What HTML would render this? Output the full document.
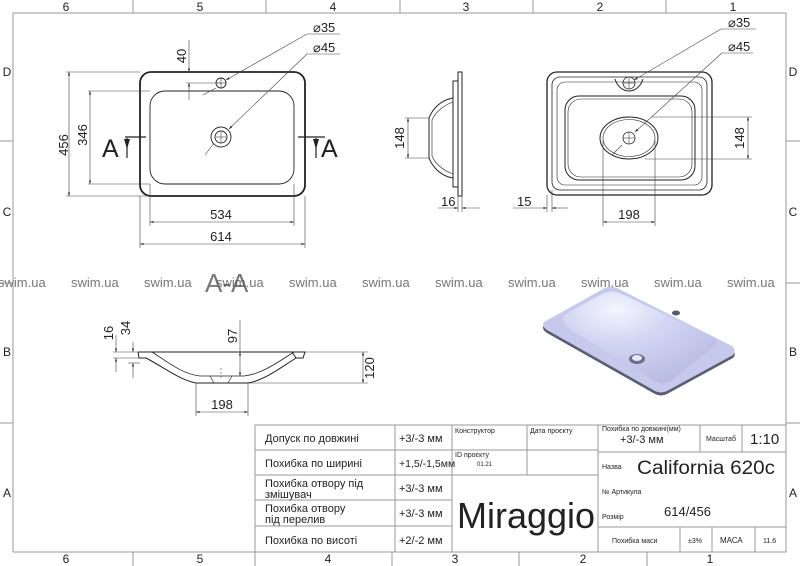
<!DOCTYPE html>
<html><head><meta charset="utf-8"><style>
html,body{margin:0;padding:0;background:#fff;width:800px;height:566px;overflow:hidden}
svg{display:block}
text{font-family:"Liberation Sans",sans-serif}
</style></head><body>
<svg width="800" height="566" viewBox="0 0 800 566" xmlns="http://www.w3.org/2000/svg">
<defs>
<marker id="ar" viewBox="0 0 10 10" refX="10" refY="5" markerWidth="6" markerHeight="6" orient="auto-start-reverse"><path d="M0,2 L10,5 L0,8 z" fill="#222"/></marker>
<radialGradient id="bowl" cx="0.35" cy="0.2" r="0.9"><stop offset="0" stop-color="#f4f5ff"/><stop offset="0.4" stop-color="#d2d5f2"/><stop offset="1" stop-color="#b4b8e0"/></radialGradient>
</defs>
<g stroke="#999" stroke-width="1" fill="none">
<line x1="13" y1="13" x2="786" y2="13"/>
<line x1="13" y1="13" x2="13" y2="552"/>
<line x1="786" y1="13" x2="786" y2="552"/>
<line x1="13" y1="552" x2="786" y2="552"/>
<line x1="133" y1="0" x2="133" y2="13"/><line x1="266" y1="0" x2="266" y2="13"/><line x1="400" y1="0" x2="400" y2="13"/><line x1="533" y1="0" x2="533" y2="13"/><line x1="666" y1="0" x2="666" y2="13"/>
<line x1="133" y1="552" x2="133" y2="566"/><line x1="255" y1="552" x2="255" y2="566"/><line x1="392" y1="552" x2="392" y2="566"/><line x1="519" y1="552" x2="519" y2="566"/><line x1="647" y1="552" x2="647" y2="566"/>
<line x1="0" y1="141" x2="13" y2="141"/><line x1="0" y1="283" x2="13" y2="283"/><line x1="0" y1="423" x2="13" y2="423"/>
<line x1="786" y1="141" x2="800" y2="141"/><line x1="786" y1="283" x2="800" y2="283"/><line x1="786" y1="423" x2="800" y2="423"/>
</g>
<g font-size="12" fill="#222" text-anchor="middle">
<text x="66" y="11">6</text><text x="200" y="11">5</text><text x="333" y="11">4</text><text x="466" y="11">3</text><text x="600" y="11">2</text><text x="733" y="11">1</text>
<text x="66" y="563">6</text><text x="200" y="563">5</text><text x="328" y="563">4</text><text x="455" y="563">3</text><text x="583" y="563">2</text><text x="710" y="563">1</text>
<text x="7" y="76">D</text><text x="7" y="216">C</text><text x="7" y="356">B</text><text x="7" y="497">A</text>
<text x="793" y="76">D</text><text x="793" y="216">C</text><text x="793" y="356">B</text><text x="793" y="497">A</text>
</g>

<!-- Plan view left -->
<g stroke="#222" fill="none">
<rect x="140" y="72" width="165" height="124" rx="11" stroke-width="1.8"/>
<rect x="150" y="91" width="144" height="93" rx="15" stroke-width="0.9"/>
<circle cx="221" cy="137" r="10" stroke-width="0.9"/><circle cx="221" cy="137" r="6" stroke-width="0.9"/>
<circle cx="221" cy="83" r="5" stroke-width="0.9"/>
</g>
<g stroke="#444" stroke-width="0.6" fill="none">
<line x1="216" y1="137" x2="226" y2="137"/><line x1="221" y1="132" x2="221" y2="142"/>
<line x1="216" y1="83" x2="226" y2="83"/><line x1="221" y1="78" x2="221" y2="88"/>
<line x1="66" y1="72" x2="140" y2="72"/><line x1="66" y1="196" x2="150" y2="196"/>
<line x1="88" y1="91" x2="150" y2="91"/><line x1="88" y1="184" x2="150" y2="184"/>
<line x1="69" y1="72" x2="69" y2="196" marker-start="url(#ar)" marker-end="url(#ar)"/>
<line x1="90" y1="91" x2="90" y2="184" marker-start="url(#ar)" marker-end="url(#ar)"/>
<line x1="150" y1="184" x2="150" y2="226"/><line x1="294" y1="184" x2="294" y2="226"/>
<line x1="140" y1="196" x2="140" y2="248"/><line x1="305" y1="196" x2="305" y2="248"/>
<line x1="150" y1="222" x2="294" y2="222" marker-start="url(#ar)" marker-end="url(#ar)"/>
<line x1="140" y1="244" x2="305" y2="244" marker-start="url(#ar)" marker-end="url(#ar)"/>
<line x1="189" y1="40" x2="189" y2="72" marker-end="url(#ar)"/>
<line x1="189" y1="100" x2="189" y2="83" marker-end="url(#ar)"/>
<line x1="186" y1="83" x2="221" y2="83"/>
<line x1="340" y1="34" x2="307" y2="34"/><line x1="307" y1="34" x2="226" y2="80" marker-end="url(#ar)"/><line x1="216" y1="88" x2="203" y2="95"/>
<line x1="340" y1="54" x2="307" y2="54"/><line x1="307" y1="54" x2="229" y2="129" marker-end="url(#ar)"/><line x1="214" y1="143" x2="205" y2="155"/>
</g>
<g stroke="#222" stroke-width="1.2">
<line x1="125" y1="137" x2="146" y2="137"/><line x1="298" y1="137" x2="325" y2="137"/>
<line x1="127" y1="138" x2="127" y2="158"/><line x1="316" y1="138" x2="316" y2="158"/>
</g>
<path d="M124,139 L127,149 L130,139z M313,139 L316,149 L319,139z" fill="#222"/>
<g font-size="13" fill="#222">
<text x="102" y="157" font-size="25">A</text><text x="321" y="157" font-size="25">A</text>
<text x="0" y="0" transform="translate(68,145) rotate(-90)" text-anchor="middle">456</text>
<text x="0" y="0" transform="translate(87,135) rotate(-90)" text-anchor="middle">346</text>
<text x="0" y="0" transform="translate(186,56) rotate(-90)" text-anchor="middle">40</text>
<text x="221" y="219" text-anchor="middle">534</text>
<text x="221" y="241" text-anchor="middle">614</text>
<text x="313" y="32">⌀35</text><text x="313" y="52">⌀45</text>
</g>

<!-- Side view -->
<g stroke="#222" fill="none" stroke-width="1">
<rect x="458" y="72" width="4" height="124"/>
<rect x="453" y="81" width="5" height="106"/>
<path d="M453,98 C440,100 432,110 429,118 L429,158 C432,166 440,176 453,178"/>
<path d="M453,102 C442,106 435,113 432,120 L432,156 C435,163 442,170 453,174" stroke-width="0.6"/>
</g>
<g stroke="#444" stroke-width="0.6" fill="none">
<line x1="405" y1="118" x2="430" y2="118"/><line x1="405" y1="158" x2="430" y2="158"/>
<line x1="408" y1="118" x2="408" y2="158" marker-start="url(#ar)" marker-end="url(#ar)"/>
<line x1="458" y1="196" x2="458" y2="212"/><line x1="462" y1="196" x2="462" y2="212"/>
<line x1="438" y1="208" x2="458" y2="208" marker-end="url(#ar)"/><line x1="480" y1="208" x2="462" y2="208" marker-end="url(#ar)"/>
</g>
<g font-size="13" fill="#222">
<text transform="translate(404,138) rotate(-90)" text-anchor="middle">148</text>
<text x="441" y="206">16</text>
</g>

<!-- Right plan view -->
<g stroke="#222" fill="none">
<rect x="547" y="72" width="165" height="123" rx="10" stroke-width="1.3"/>
<rect x="552" y="77" width="155" height="113" rx="8" stroke-width="0.8"/>
<rect x="557" y="82" width="145" height="103" rx="8" stroke-width="0.6"/>
<rect x="565" y="96" width="130" height="84" rx="14" stroke-width="1"/>
<rect x="568" y="99" width="124" height="78" rx="13" stroke-width="0.6"/>
<ellipse cx="629" cy="138" rx="29" ry="21" stroke-width="1"/>
<ellipse cx="629" cy="138" rx="26" ry="18.5" stroke-width="0.6"/>
<circle cx="629" cy="138" r="6" stroke-width="0.8"/>
<circle cx="629" cy="83" r="6" stroke-width="0.8"/>
<path d="M615,79 C620,95 638,95 643,79" stroke-width="1"/>
</g>
<g stroke="#444" stroke-width="0.6" fill="none">
<line x1="623" y1="138" x2="635" y2="138"/><line x1="629" y1="132" x2="629" y2="144"/>
<line x1="623" y1="83" x2="635" y2="83"/><line x1="629" y1="77" x2="629" y2="89"/>
<line x1="652" y1="117" x2="752" y2="117"/><line x1="645" y1="159" x2="752" y2="159"/>
<line x1="748" y1="117" x2="748" y2="159" marker-start="url(#ar)" marker-end="url(#ar)"/>
<line x1="603" y1="140" x2="603" y2="226"/><line x1="655" y1="140" x2="655" y2="226"/>
<line x1="603" y1="222" x2="655" y2="222" marker-start="url(#ar)" marker-end="url(#ar)"/>
<line x1="547" y1="195" x2="547" y2="212"/><line x1="552" y1="190" x2="552" y2="212"/>
<line x1="513" y1="208" x2="547" y2="208" marker-end="url(#ar)"/><line x1="568" y1="208" x2="552" y2="208" marker-end="url(#ar)"/>
<line x1="756" y1="29" x2="721" y2="29"/><line x1="721" y1="29" x2="634" y2="80" marker-end="url(#ar)"/>
<line x1="753" y1="53" x2="722" y2="53"/><line x1="722" y1="53" x2="635" y2="132" marker-end="url(#ar)"/><line x1="622" y1="145" x2="612" y2="155"/>
</g>
<g font-size="13" fill="#222">
<text x="728" y="27">⌀35</text><text x="728" y="51">⌀45</text>
<text x="629" y="219" text-anchor="middle">198</text>
<text x="517" y="206">15</text>
<text transform="translate(744,138) rotate(-90)" text-anchor="middle">148</text>
</g>

<!-- 3D -->
<path d="M544,325 L603,291 Q610,287 617,290 L732,350 Q737,354 733,358 L667,394 Q661,397 655,394 L547,333 Q541,329 544,325z" fill="#5a5e72"/>
<path d="M544,322 L603,289 Q610,285 617,288 L732,346 Q737,350 733,355 L667,391 Q661,394 655,391 L547,330 Q541,326 544,322z" fill="#c6c9ec"/>
<path d="M566,314 L602,294 Q612,289 622,294 L712,337 Q720,342 712,348 L672,380 Q664,386 655,381 L571,330 Q558,321 566,314z" fill="url(#bowl)"/>
<ellipse cx="637" cy="359" rx="8" ry="5" fill="#6a6f8a"/><ellipse cx="637" cy="358" rx="5" ry="3" fill="#e6e8ff"/>
<ellipse cx="676" cy="313" rx="4" ry="2.5" fill="#555a70"/>

<!-- watermark -->
<g font-size="13" fill="#777">
<text x="-2" y="287">swim.ua</text><text x="71" y="287">swim.ua</text><text x="144" y="287">swim.ua</text><text x="216" y="287">swim.ua</text><text x="289" y="287">swim.ua</text><text x="362" y="287">swim.ua</text><text x="435" y="287">swim.ua</text><text x="508" y="287">swim.ua</text><text x="581" y="287">swim.ua</text><text x="654" y="287">swim.ua</text><text x="727" y="287">swim.ua</text>
</g>
<text x="205" y="292" font-size="26" fill="#555" fill-opacity="0.8">A-A</text>

<!-- Section A-A -->
<g stroke="#222" fill="none" stroke-width="1">
<path d="M138,352 L305,352 L303,358 L296,358 L292,352"/>
<path d="M138,352 L139,358 L146,358 C165,368 180,380 196,383 L248,383 C265,380 280,368 296,358"/>
<path d="M152,352 C168,362 182,374 200,376 L244,376 C262,374 278,362 294,352" stroke-width="0.8"/>
<path d="M210,376 L214,383 M232,376 L228,383" stroke-width="0.6"/>
</g>
<g stroke="#444" stroke-width="0.6" fill="none">
<line x1="113" y1="352" x2="138" y2="352"/><line x1="113" y1="358" x2="139" y2="358"/>
<line x1="116" y1="335" x2="116" y2="352" marker-end="url(#ar)"/><line x1="116" y1="372" x2="116" y2="358" marker-end="url(#ar)"/>
<line x1="133" y1="342" x2="133" y2="352" marker-end="url(#ar)"/><line x1="133" y1="378" x2="133" y2="363" marker-end="url(#ar)"/>
<line x1="128" y1="363" x2="140" y2="363"/>
<line x1="240" y1="320" x2="240" y2="352"/><line x1="240" y1="352" x2="240" y2="376" marker-start="url(#ar)" marker-end="url(#ar)"/>
<line x1="305" y1="352" x2="368" y2="352"/><line x1="248" y1="383" x2="368" y2="383"/>
<line x1="363" y1="352" x2="363" y2="383" marker-start="url(#ar)" marker-end="url(#ar)"/>
<line x1="196" y1="383" x2="196" y2="416"/><line x1="248" y1="383" x2="248" y2="416"/>
<line x1="196" y1="412" x2="248" y2="412" marker-start="url(#ar)" marker-end="url(#ar)"/>
<line x1="221" y1="368" x2="221" y2="378" stroke-dasharray="2,2"/>
</g>
<g font-size="13" fill="#222">
<text transform="translate(113,333) rotate(-90)" text-anchor="middle">16</text>
<text transform="translate(130,328) rotate(-90)" text-anchor="middle">34</text>
<text transform="translate(237,336) rotate(-90)" text-anchor="middle">97</text>
<text transform="translate(374,368) rotate(-90)" text-anchor="middle">120</text>
<text x="222" y="409" text-anchor="middle">198</text>
</g>

<!-- Table -->
<g stroke="#999" stroke-width="1" fill="none">
<rect x="255" y="425" width="531" height="127"/>
<line x1="255" y1="450" x2="452" y2="450"/><line x1="255" y1="475" x2="598" y2="475"/><line x1="255" y1="500" x2="452" y2="500"/><line x1="255" y1="526" x2="452" y2="526"/>
<line x1="452" y1="450" x2="598" y2="450"/>
<line x1="395" y1="425" x2="395" y2="552"/><line x1="452" y1="425" x2="452" y2="552"/><line x1="527" y1="425" x2="527" y2="475"/><line x1="598" y1="425" x2="598" y2="552"/>
<line x1="598" y1="452" x2="786" y2="452"/><line x1="598" y1="527" x2="786" y2="527"/>
<line x1="700" y1="425" x2="700" y2="452"/><line x1="742" y1="425" x2="742" y2="452"/>
<line x1="680" y1="527" x2="680" y2="552"/><line x1="712" y1="527" x2="712" y2="552"/><line x1="755" y1="527" x2="755" y2="552"/>
</g>
<g fill="#222" font-size="11">
<text x="265" y="442">Допуск по довжині</text>
<text x="265" y="467">Похибка по ширині</text>
<text x="265" y="487">Похибка отвору під</text><text x="265" y="498">змішувач</text>
<text x="265" y="512">Похибка отвору</text><text x="265" y="523">під перелив</text>
<text x="265" y="544">Похибка по висоті</text>
<text x="399" y="442">+3/-3 мм</text><text x="399" y="467" font-size="10.5">+1,5/-1,5мм</text>
<text x="399" y="492">+3/-3 мм</text><text x="399" y="517">+3/-3 мм</text><text x="399" y="544">+2/-2 мм</text>
<text x="455" y="433" font-size="7">Конструктор</text><text x="530" y="433" font-size="7">Дата проєкту</text>
<text x="455" y="457" font-size="7">ID проєкту</text><text x="477" y="466" font-size="6">01.21</text>
<text x="457" y="528" font-size="36" textLength="138" lengthAdjust="spacingAndGlyphs">Miraggio</text>
<text x="602" y="431" font-size="7">Похибка по довжині(мм)</text><text x="620" y="443">+3/-3 мм</text>
<text x="706" y="441" font-size="7">Масштаб</text><text x="750" y="444" font-size="15">1:10</text>
<text x="602" y="469" font-size="7">Назва</text><text x="637" y="474" font-size="19" textLength="138" lengthAdjust="spacingAndGlyphs">California 620c</text>
<text x="602" y="494" font-size="7">№ Артикула</text>
<text x="602" y="519" font-size="7">Розмір</text><text x="664" y="516" font-size="13">614/456</text>
<text x="612" y="543" font-size="7">Похибка маси</text><text x="688" y="543" font-size="7">±3%</text><text x="720" y="543" font-size="8">МАСА</text><text x="763" y="543" font-size="7">11.6</text>
</g>
</svg>
</body></html>
